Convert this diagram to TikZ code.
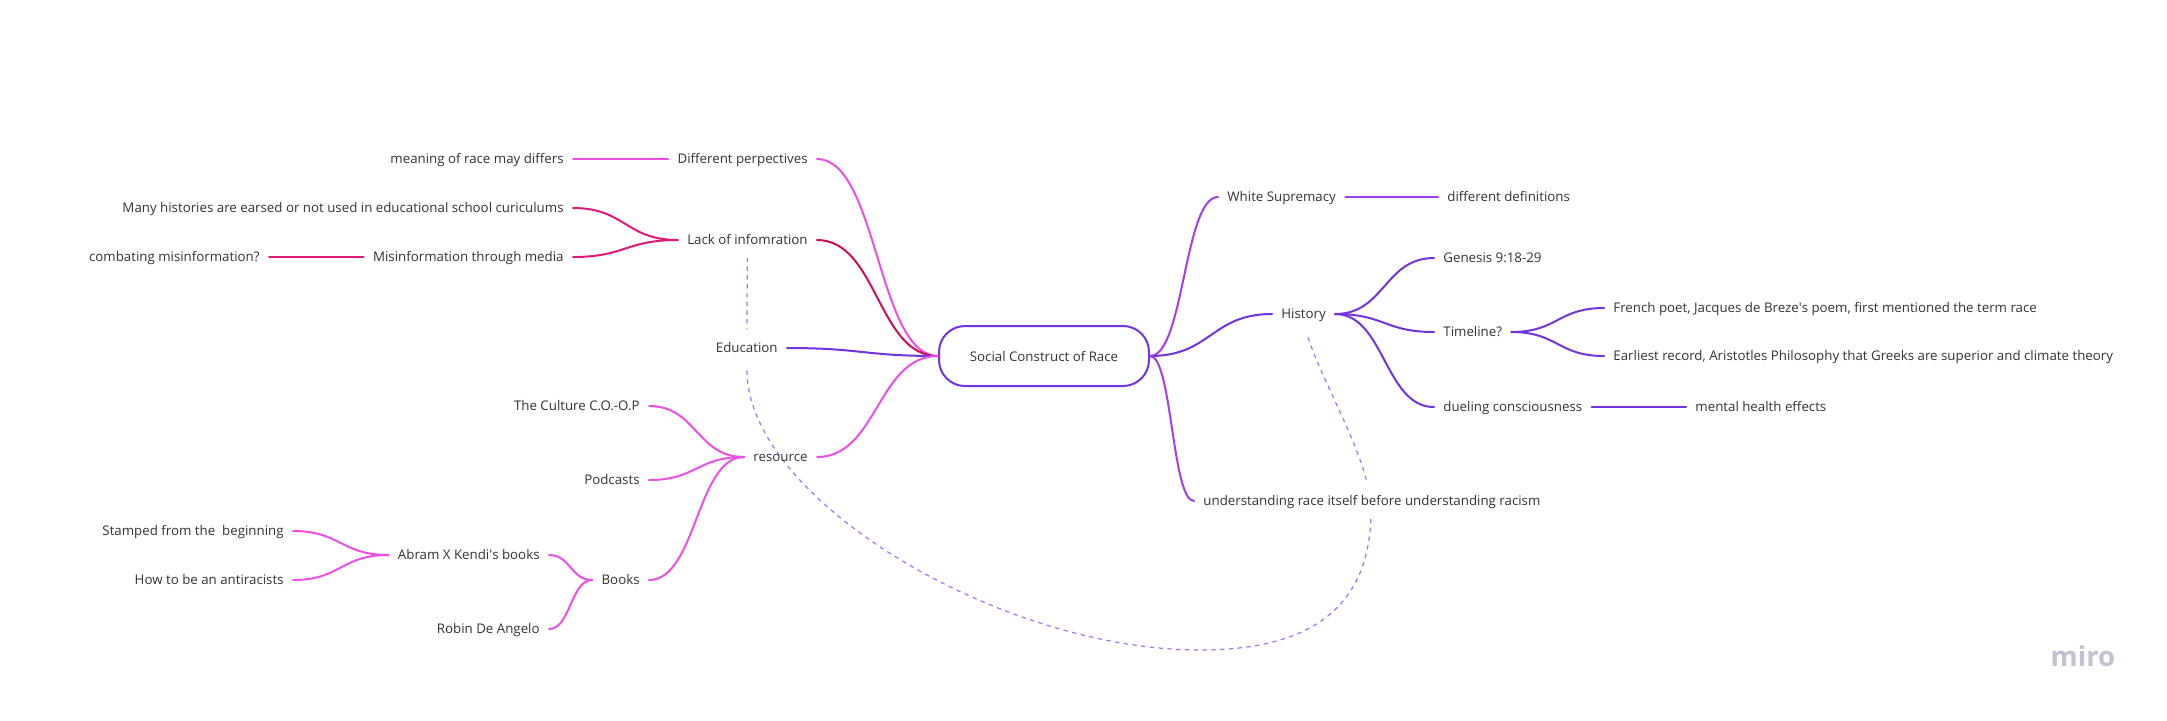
\documentclass[tikz,border=0pt]{standalone}
\usepackage{fontspec}
\setmainfont{Open Sans}
\usetikzlibrary{calc}
\definecolor{txt}{HTML}{333333}
\definecolor{pinkc}{HTML}{EC4FE2}
\definecolor{crim}{HTML}{E3197A}
\definecolor{crimd}{HTML}{CC0F5C}
\definecolor{viol}{HTML}{7134E0}
\definecolor{purp}{HTML}{A43EEA}
\definecolor{dashc}{HTML}{A873EA}
\definecolor{mirog}{HTML}{C2C2D4}
\pgfdeclarelayer{bg}
\pgfsetlayers{bg,main}
\tikzset{
  lbl/.style={text=txt, inner xsep=4.5pt, inner ysep=1pt, text height=4.6pt, text depth=0.6pt},
  centralbox/.style={draw=viol, line width=1pt, rounded corners=13pt, minimum width=105pt, minimum height=30pt, text=txt, inner sep=0pt},
  sc/.style={to path={let \p1=(\tikztostart), \p2=(\tikztotarget) in .. controls ({(\x1+\x2)/2},\y1) and ({(\x1+\x2)/2},\y2) .. (\tikztotarget)}},
  br/.style={line width=1pt, line cap=round},
  dl/.style={dashc, line width=0.6pt, dash pattern=on 2.2pt off 2.2pt},
}
\begin{document}
\begin{tikzpicture}[x=0.5pt,y=-0.5pt, font=\fontsize{6.65}{8}\selectfont]
\useasboundingbox (0,0) rectangle (2167,720);
\begin{pgfonlayer}{bg}
\fill[white] (0,0) rectangle (2167,720);
\end{pgfonlayer}

% ---- left side nodes
\node[lbl,anchor=east] (meaning) at (573,159) {meaning of race may differs};
\node[lbl,anchor=east] (diffp) at (817,159) {Different perpectives};
\node[lbl,anchor=east] (many) at (573,208) {Many histories are earsed or not used in educational school curiculums};
\node[lbl,anchor=east] (lack) at (817,240) {Lack of infomration};
\node[lbl,anchor=east] (combat) at (269,257) {combating misinformation?};
\node[lbl,anchor=east] (misinfo) at (573,257) {Misinformation through media};
\node[lbl,anchor=east] (edu) at (787,348) {Education};
\node[lbl,anchor=east] (culture) at (649,406) {The Culture C.O.-O.P};
\node[lbl,anchor=east] (podcasts) at (649,480) {Podcasts};
\node[lbl,anchor=east] (resource) at (817,457) {resource};
\node[lbl,anchor=east] (stamped) at (293,531) {Stamped from the\ \ beginning};
\node[lbl,anchor=east] (how) at (293,580) {How to be an antiracists};
\node[lbl,anchor=east] (abram) at (549,555) {Abram X Kendi\textquotesingle s books};
\node[lbl,anchor=east] (books) at (649,580) {Books};
\node[lbl,anchor=east] (robin) at (549,629) {Robin De Angelo};

% ---- central
\node[centralbox] (central) at (1044,356) {Social Construct of Race};

% ---- right side nodes
\node[lbl,anchor=west] (white) at (1218,197) {White Supremacy};
\node[lbl,anchor=west] (diffdef) at (1438,197) {different definitions};
\node[lbl,anchor=west] (history) at (1272,314) {History};
\node[lbl,anchor=west] (genesis) at (1434,258) {Genesis 9:18-29};
\node[lbl,anchor=west] (timeline) at (1434,332) {Timeline?};
\node[lbl,anchor=west] (dueling) at (1434,407) {dueling consciousness};
\node[lbl,anchor=west] (french) at (1604,308) {French poet, Jacques de Breze\textquotesingle s poem, first mentioned the term race};
\node[lbl,anchor=west] (earliest) at (1604,356) {Earliest record, Aristotles Philosophy that Greeks are superior and climate theory};
\node[lbl,anchor=west] (mental) at (1686,407) {mental health effects};
\node[lbl,anchor=west,fill=white,inner ysep=6.5pt] (underst) at (1194,501) {understanding race itself before understanding racism};

% ---- watermark
\node[anchor=base, text=mirog, font=\fontsize{13.8}{16}\selectfont\bfseries, inner sep=0pt] (miro) at (2083,666) {miro};

% ---- dashed links
\begin{pgfonlayer}{bg}
\draw[dl, shorten <=5pt, shorten >=5.5pt] (lack.south) -- (edu.north);
\draw[dl, shorten <=7.5pt, shorten >=6pt] (edu.south) .. controls (748,500) and (1000,650) .. (1200,650)
   .. controls (1320,650) and (1371,600) .. (1371,510)
   .. controls (1371,460) and (1320,380) .. (history.south);
\end{pgfonlayer}

% ---- left branches
\draw[br, pinkc] (meaning.east) -- (diffp.west);
\draw[br, pinkc] (diffp.east) to[sc] (central.west);
\draw[br, crim] (many.east) to[sc] (lack.west);
\draw[br, crim] (misinfo.east) to[sc] (lack.west);
\draw[br, crim] (combat.east) -- (misinfo.west);
\draw[br, crimd] (lack.east) to[sc] (central.west);
\draw[br, viol] (edu.east) to[sc] (central.west);
\draw[br, pinkc] (resource.east) to[sc] (central.west);
\draw[br, pinkc] (culture.east) to[sc] (resource.west);
\draw[br, pinkc] (podcasts.east) to[sc] (resource.west);
\draw[br, pinkc] (books.east) to[sc] (resource.west);
\draw[br, pinkc] (abram.east) to[sc] (books.west);
\draw[br, pinkc] (robin.east) to[sc] (books.west);
\draw[br, pinkc] (stamped.east) to[sc] (abram.west);
\draw[br, pinkc] (how.east) to[sc] (abram.west);

% ---- right branches
\draw[br, purp] (central.east) to[sc] (white.west);
\draw[br, purp] (white.east) -- (diffdef.west);
\draw[br, viol] (central.east) to[sc] (history.west);
\draw[br, purp] (central.east) to[sc] (underst.west);
\draw[br, viol] (history.east) to[sc] (genesis.west);
\draw[br, viol] (history.east) to[sc] (timeline.west);
\draw[br, viol] (history.east) to[sc] (dueling.west);
\draw[br, viol] (timeline.east) to[sc] (french.west);
\draw[br, viol] (timeline.east) to[sc] (earliest.west);
\draw[br, viol] (dueling.east) -- (mental.west);
\end{tikzpicture}
\end{document}
